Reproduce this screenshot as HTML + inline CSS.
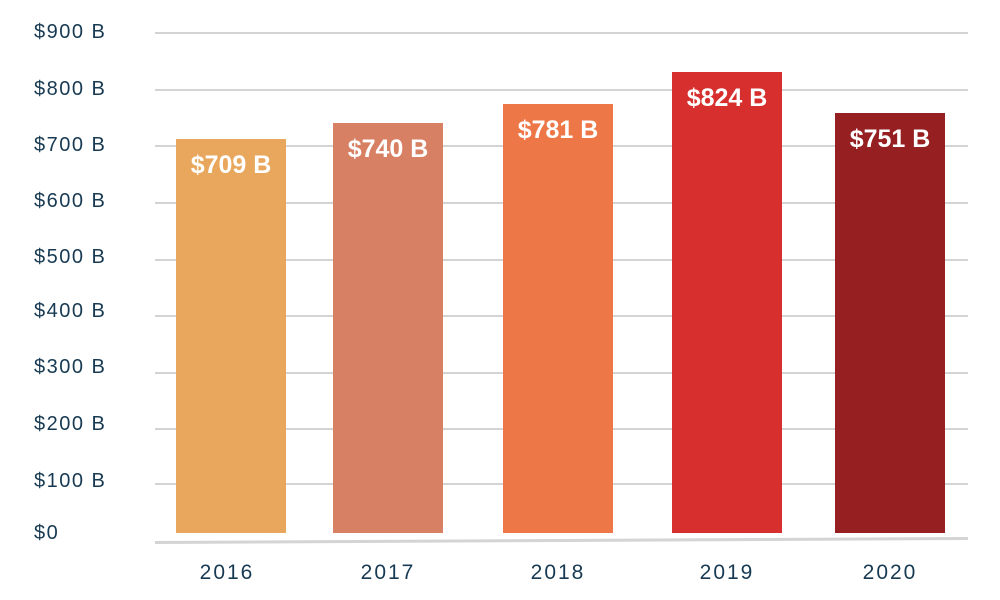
<!DOCTYPE html>
<html><head><style>
body{margin:0;background:#fff;width:1000px;height:600px;overflow:hidden;position:relative;font-family:"Liberation Sans",sans-serif}
.g{position:absolute;left:155px;width:813px;height:2px;background:#d4d4d4}
.yl{position:absolute;left:34px;font-size:20px;color:#173a52;line-height:20px;letter-spacing:1.5px}
.b{position:absolute;bottom:67px;width:110px;text-align:center;color:#fff;font-weight:bold;font-size:25px}
.b span{position:absolute;left:0;right:0;top:12px}
.x{position:absolute;top:561px;width:110px;text-align:center;font-size:21px;color:#173a52;letter-spacing:2px}
</style></head><body>
<div class="g" style="top:32px"></div>
<div class="g" style="top:89px"></div>
<div class="g" style="top:145px"></div>
<div class="g" style="top:202px"></div>
<div class="g" style="top:259px"></div>
<div class="g" style="top:315px"></div>
<div class="g" style="top:372px"></div>
<div class="g" style="top:428px"></div>
<div class="g" style="top:483px"></div>
<div class="g" style="top:539px;height:3px;transform:rotate(-0.28deg)"></div>
<div class="yl" style="top:22px">$900 B</div>
<div class="yl" style="top:79px">$800 B</div>
<div class="yl" style="top:135px">$700 B</div>
<div class="yl" style="top:191px">$600 B</div>
<div class="yl" style="top:247px">$500 B</div>
<div class="yl" style="top:301px">$400 B</div>
<div class="yl" style="top:357px">$300 B</div>
<div class="yl" style="top:414px">$200 B</div>
<div class="yl" style="top:471px">$100 B</div>
<div class="yl" style="top:523px">$0</div>
<div class="b" style="left:176px;top:139px;background:#e8a75c"><span>$709 B</span></div>
<div class="b" style="left:333px;top:123px;background:#d88064"><span>$740 B</span></div>
<div class="b" style="left:503px;top:104px;background:#ee7747"><span>$781 B</span></div>
<div class="b" style="left:672px;top:72px;background:#d62f2e"><span>$824 B</span></div>
<div class="b" style="left:835px;top:113px;background:#961f22"><span>$751 B</span></div>
<div class="x" style="left:172px">2016</div>
<div class="x" style="left:333px">2017</div>
<div class="x" style="left:503px">2018</div>
<div class="x" style="left:672px">2019</div>
<div class="x" style="left:835px">2020</div>
</body></html>
